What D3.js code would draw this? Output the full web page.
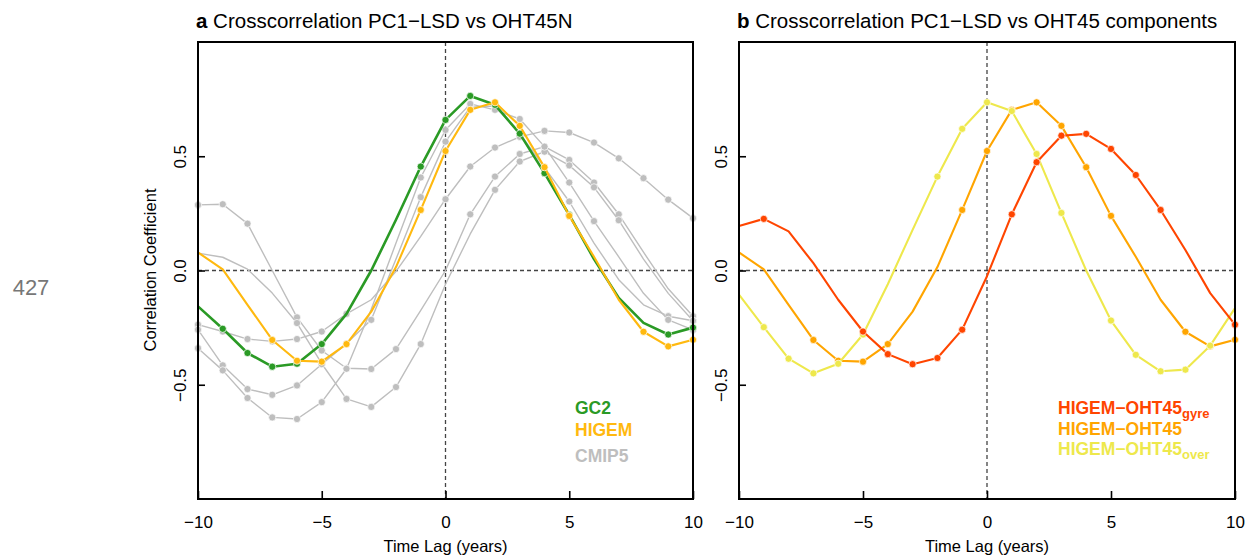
<!DOCTYPE html>
<html>
<head>
<meta charset="utf-8">
<script src="https://cdn.jsdelivr.net/npm/d3@7"></script>
<style>
  body { margin: 0; background: #fff; }
  svg { font-family: 'Liberation Sans', Arial, sans-serif; }
</style>
</head>
<body>
<div id="chart-area"></div>
<script>
// lag in years
const lags = [-10, -9, -8, -7, -6, -5, -4, -3, -2, -1, 0, 1, 2, 3, 4, 5, 6, 7, 8, 9, 10]

// panel a: PC1-LSD vs OHT45N
const gc2 = [-0.157, -0.255, -0.361, -0.421, -0.408, -0.322, -0.19, 0.0, 0.222, 0.455, 0.659, 0.764, 0.725, 0.599, 0.426, 0.243, 0.05, -0.12, -0.229, -0.28, -0.25]
const higem = [0.079, 0.005, -0.15, -0.304, -0.395, -0.399, -0.322, -0.18, 0.015, 0.265, 0.523, 0.703, 0.736, 0.633, 0.452, 0.239, 0.06, -0.128, -0.268, -0.332, -0.303]
const cmip5a = [0.287, 0.29, 0.205, 0.0, -0.205, -0.35, -0.428, -0.431, -0.344, -0.175, 0.0, 0.246, 0.411, 0.51, 0.542, 0.484, 0.385, 0.246, 0.08, -0.08, -0.2]
const cmip5b = [0.076, 0.058, 0.006, -0.099, -0.23, -0.408, -0.562, -0.597, -0.51, -0.322, -0.06, 0.16, 0.353, 0.477, 0.52, 0.46, 0.364, 0.22, 0.05, -0.1, -0.22]
const cmip5c = [-0.237, -0.267, -0.3, -0.31, -0.3, -0.267, -0.19, -0.128, -0.004, 0.149, 0.312, 0.455, 0.538, 0.585, 0.611, 0.604, 0.56, 0.491, 0.404, 0.31, 0.229]
const cmip5d = [-0.259, -0.415, -0.519, -0.544, -0.503, -0.41, -0.32, -0.216, 0.05, 0.321, 0.564, 0.715, 0.72, 0.6, 0.45, 0.302, 0.12, -0.04, -0.15, -0.2, -0.22]
const cmip5e = [-0.34, -0.437, -0.558, -0.643, -0.65, -0.576, -0.43, -0.17, 0.12, 0.407, 0.615, 0.729, 0.703, 0.663, 0.542, 0.385, 0.216, 0.06, -0.1, -0.216, -0.26]
const cmip5 = [cmip5a, cmip5b, cmip5c, cmip5d, cmip5e]

// panel b: PC1-LSD vs OHT45 components (HIGEM)
const higemGyre = [0.195, 0.226, 0.171, 0.032, -0.128, -0.267, -0.366, -0.41, -0.383, -0.259, -0.025, 0.246, 0.474, 0.59, 0.598, 0.532, 0.418, 0.265, 0.09, -0.099, -0.237]
const higemOver = [-0.106, -0.248, -0.386, -0.45, -0.408, -0.28, -0.06, 0.178, 0.411, 0.62, 0.736, 0.698, 0.51, 0.252, 0.0, -0.219, -0.369, -0.441, -0.434, -0.329, -0.165]

// significance level: points only drawn where |r| reaches it
const sigGc2 = 0.24
const sigHigem = 0.2
const sigCmip5 = 0.19
const sigComponents = 0.2

const xTicks = [-10, -5, 0, 5, 10]
const yTicks = [-0.5, 0, 0.5]

const svg = d3.select('#chart-area')
  .append('svg')
    .attr('width', 1248)
    .attr('height', 557)

const plotTop = 42
const plotBottom = 499

const y = d3.scaleLinear()
  .domain([-1, 1])
  .range([plotBottom, plotTop])

svg.append('text')
  .attr('x', 31)
  .attr('y', 295)
  .attr('text-anchor', 'middle')
  .attr('font-size', 22)
  .attr('fill', '#777')
  .text('427')

function drawPanel(left, right, letter, title) {
  const x = d3.scaleLinear()
    .domain([-10, 10])
    .range([left, right])

  const g = svg.append('g')

  // zero lines
  g.append('line')
    .attr('x1', left).attr('x2', right)
    .attr('y1', y(0)).attr('y2', y(0))
    .attr('stroke', '#444')
    .attr('stroke-width', 1.3)
    .attr('stroke-dasharray', '4,3')
  g.append('line')
    .attr('x1', x(0)).attr('x2', x(0))
    .attr('y1', plotTop).attr('y2', plotBottom)
    .attr('stroke', '#444')
    .attr('stroke-width', 1.3)
    .attr('stroke-dasharray', '4,3')

  const xAxis = d3.axisBottom(x)
    .tickValues(xTicks)
    .tickSizeInner(-8)
    .tickSizeOuter(0)
    .tickPadding(17)
  const gx = g.append('g')
    .attr('transform', `translate(0, ${plotBottom})`)
    .call(xAxis)
  gx.select('.domain').remove()
  gx.selectAll('line').attr('stroke', '#000').attr('stroke-width', 1.6)
  gx.selectAll('text')
    .attr('font-size', 17)
    .attr('font-family', 'Liberation Sans, Arial, sans-serif')
    .attr('fill', '#000')

  const yAxis = d3.axisLeft(y)
    .tickValues(yTicks)
    .tickSizeInner(-7)
    .tickSizeOuter(0)
    .tickFormat(d3.format('.1f'))
  const gy = g.append('g')
    .attr('transform', `translate(${left}, 0)`)
    .call(yAxis)
  gy.select('.domain').remove()
  gy.selectAll('line').attr('stroke', '#000').attr('stroke-width', 1.6)
  gy.selectAll('text')
    .attr('x', null)
    .attr('dy', null)
    .attr('transform', 'translate(-12, 0) rotate(-90)')
    .attr('text-anchor', 'middle')
    .attr('font-size', 17)
    .attr('font-family', 'Liberation Sans, Arial, sans-serif')
    .attr('fill', '#000')

  g.append('text')
    .attr('x', (left + right) / 2)
    .attr('y', 552)
    .attr('text-anchor', 'middle')
    .attr('font-size', 16.5)
    .text('Time Lag (years)')

  const t = g.append('text')
    .attr('x', left - 2)
    .attr('y', 28)
    .attr('font-size', 20.5)
  t.append('tspan').attr('font-weight', 'bold').text(letter)
  t.append('tspan').text(' ' + title)

  return { g, x }
}

function drawSeries(p, values, color, width, sig) {
  const pts = lags.map((lag, i) => ({ lag, r: values[i] }))
  const line = d3.line()
    .x(d => p.x(d.lag))
    .y(d => y(d.r))
  p.g.append('path')
    .datum(pts)
    .attr('d', line)
    .attr('fill', 'none')
    .attr('stroke', color)
    .attr('stroke-width', width)
    .attr('stroke-linejoin', 'round')
  p.g.selectAll(null)
    .data(pts.filter(d => Math.abs(d.r) >= sig))
    .enter()
    .append('circle')
      .attr('cx', d => p.x(d.lag))
      .attr('cy', d => y(d.r))
      .attr('r', 3.6)
      .attr('fill', color)
      .attr('stroke', '#fff')
      .attr('stroke-width', 0.7)
}

function frame(p, left, right) {
  p.g.append('rect')
    .attr('x', left)
    .attr('y', plotTop)
    .attr('width', right - left)
    .attr('height', plotBottom - plotTop)
    .attr('fill', 'none')
    .attr('stroke', '#000')
    .attr('stroke-width', 2)
}

// panel a
const pa = drawPanel(198, 693, 'a', 'Crosscorrelation PC1\u2212LSD vs OHT45N')
cmip5.forEach(run => drawSeries(pa, run, '#bebebe', 1.4, sigCmip5))
drawSeries(pa, gc2, '#2a9a25', 2.6, sigGc2)
drawSeries(pa, higem, '#ffb90f', 2.1, sigHigem)
frame(pa, 198, 693)

svg.append('text')
  .attr('transform', 'translate(156, 270) rotate(-90)')
  .attr('text-anchor', 'middle')
  .attr('font-size', 16.5)
  .text('Correlation Coefficient')

const legendA = [
  { label: 'GC2', color: '#2a9a25', y: 414 },
  { label: 'HIGEM', color: '#ffb90f', y: 436 },
  { label: 'CMIP5', color: '#bebebe', y: 462 }
]
pa.g.selectAll(null).data(legendA).enter()
  .append('text')
    .attr('x', 575)
    .attr('y', d => d.y)
    .attr('font-size', 17.5)
    .attr('font-weight', 'bold')
    .attr('fill', d => d.color)
    .text(d => d.label)

// panel b
const pb = drawPanel(739, 1235, 'b', 'Crosscorrelation PC1\u2212LSD vs OHT45 components')
drawSeries(pb, higem, '#ffa500', 2.1, sigHigem)
drawSeries(pb, higemOver, '#eee84c', 2.1, sigComponents)
drawSeries(pb, higemGyre, '#ff4500', 2.1, sigComponents)
frame(pb, 739, 1235)

const legendB = [
  { label: 'HIGEM\u2212OHT45', sub: 'gyre', color: '#ff4500', y: 414 },
  { label: 'HIGEM\u2212OHT45', sub: '', color: '#ffa500', y: 435 },
  { label: 'HIGEM\u2212OHT45', sub: 'over', color: '#eee84c', y: 455 }
]
legendB.forEach(d => {
  const t = pb.g.append('text')
    .attr('x', 1058)
    .attr('y', d.y)
    .attr('font-size', 17.5)
    .attr('font-weight', 'bold')
    .attr('fill', d.color)
  t.append('tspan').text(d.label)
  if (d.sub) {
    t.append('tspan')
      .attr('font-size', 13)
      .attr('dy', 4)
      .text(d.sub)
  }
})
</script>
</body>
</html>
